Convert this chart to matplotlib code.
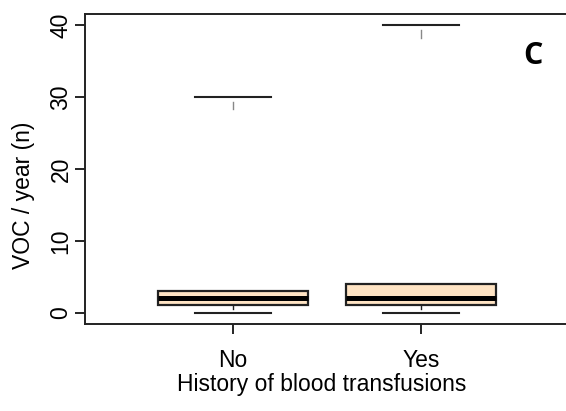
import numpy as np
import matplotlib.pyplot as plt

plt.rcParams['font.family'] = ['Liberation Sans', 'DejaVu Sans']

groups = ['No', 'Yes']
vmin = [0, 0]
q1 = [1, 1]
med = [2, 2]
q3 = [3, 4]
vmax = [30, 40]
yticks = [0, 10, 20, 30, 40]

fig = plt.figure(figsize=(5.66, 4.11), dpi=100)
ax = fig.add_axes([85 / 566, 87 / 411, 481 / 566, 310 / 411])

pos = np.arange(1, len(groups) + 1)
bw = 0.8
for x, lo, a, m, b, hi in zip(pos, vmin, q1, med, q3, vmax):
    ax.add_patch(plt.Rectangle((x - bw / 2, a), bw, b - a, facecolor='#FFE4C4',
                               edgecolor='#222222', lw=1.6, zorder=2))
    ax.plot([x - bw / 2, x + bw / 2], [m, m], color='black', lw=3.6,
            solid_capstyle='butt', zorder=3)
    # staples
    ax.plot([x - bw / 4, x + bw / 4], [hi, hi], color='#222222', lw=1.5)
    ax.plot([x - bw / 4, x + bw / 4], [lo, lo], color='#222222', lw=1.5)
    # dashed whiskers (only the first dash shows)
    ax.plot([x, x], [hi - 0.6, hi - 1.7], color='#888888', lw=1.0)
    ax.plot([x, x], [a, a - 0.45], color='#222222', lw=1.0)

ax.set_xlim(0.2128, 2.771)
ax.set_ylim(-1.6, 41.6)
ax.set_xticks(pos)
ax.set_xticklabels(groups, fontsize=16.5)
ax.set_yticks(yticks)
ax.set_yticklabels([str(t) for t in yticks], fontsize=16.5, rotation=90, va='center')
ax.tick_params(axis='y', length=7, width=1.2, pad=2)
ax.tick_params(axis='x', length=7, width=1.2, pad=11)
for s in ['left', 'top', 'bottom']:
    ax.spines[s].set_linewidth(1.4)
    ax.spines[s].set_color('#222222')
ax.spines['right'].set_visible(False)

ax.set_ylabel('VOC / year (n)', fontsize=16.5)
ax.yaxis.set_label_coords(-0.104, 0.416)
fig.text(322 / 566, 1 - 384 / 411, 'History of blood transfusions', fontsize=16.5,
         ha='center', va='center')
fig.text(533 / 566, 1 - 56 / 411, 'C', fontsize=22, fontweight='bold',
         family='Open Sans', ha='center', va='center')

fig.savefig('out.png', dpi=100)
